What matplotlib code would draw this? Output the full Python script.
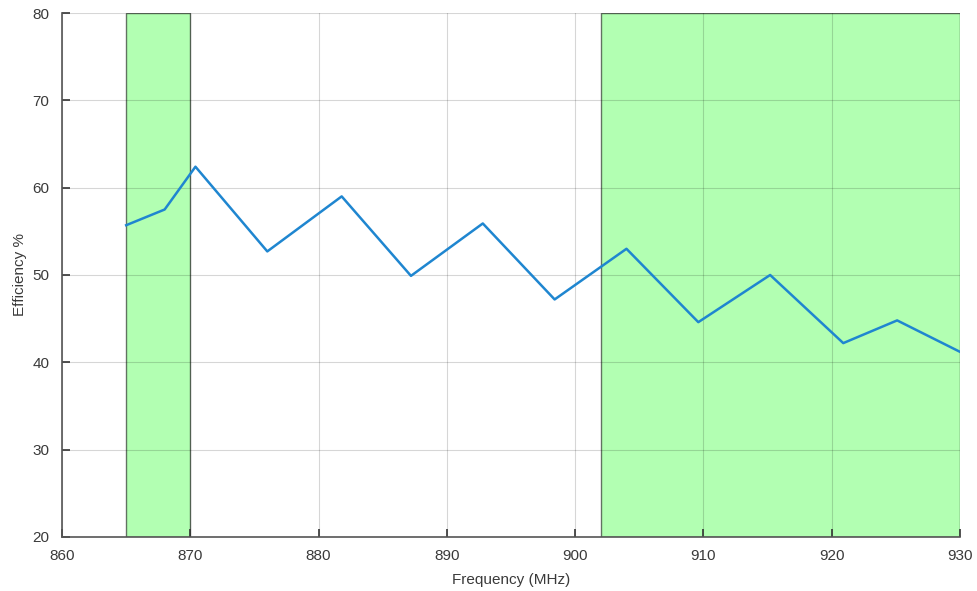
import matplotlib
matplotlib.use('Agg')
import matplotlib.pyplot as plt

plt.rcParams['font.family'] = ['Liberation Sans', 'DejaVu Sans']

# measured efficiency vs frequency
freq = [865.0, 868.0, 870.4, 876.0, 881.8, 887.2, 892.8, 898.4, 904.0, 909.6, 915.2, 920.9, 925.1, 930.0]
eff = [55.7, 57.5, 62.4, 52.7, 59.0, 49.9, 55.9, 47.2, 53.0, 44.6, 50.0, 42.2, 44.8, 41.2]

# highlighted bands (MHz)
bands = [(865, 870), (902, 930)]

x_ticks = [860, 870, 880, 890, 900, 910, 920, 930]
y_ticks = [20, 30, 40, 50, 60, 70, 80]

fig = plt.figure(figsize=(9.77, 5.91), dpi=100)
ax = fig.add_axes([0.0635, 0.0914, 0.9191, 0.8866])

for lo, hi in bands:
    ax.axvspan(lo, hi, facecolor=(0, 1, 0, 0.3), edgecolor=(0, 0, 0, 0.55), linewidth=1.0, zorder=1)

ax.plot(freq, eff, color='#1f86d0', linewidth=1.8, zorder=4)

ax.set_xlim(860, 930)
ax.set_ylim(20, 80)
ax.set_xticks(x_ticks)
ax.set_yticks(y_ticks)
# grid drawn over the bands so it stays visible through the fill
ax.set_axisbelow(False)
ax.grid(True, color='black', alpha=0.16, linewidth=0.8)
for gl in ax.get_xgridlines() + ax.get_ygridlines():
    gl.set_zorder(2)

for side in ['top', 'right']:
    ax.spines[side].set_visible(False)
for side in ['left', 'bottom']:
    ax.spines[side].set_color('#555555')
    ax.spines[side].set_linewidth(1.2)
    ax.spines[side].set_zorder(5)

ax.tick_params(direction='in', length=6, width=1.2, color='#333333', labelsize=11, labelcolor='#3a3a3a', pad=9)
ax.set_xlabel('Frequency (MHz)', fontsize=11, color='#3a3a3a', labelpad=7)
ax.set_ylabel('Efficiency %', fontsize=11, color='#3a3a3a', labelpad=4)

fig.savefig('out.png', dpi=100)
